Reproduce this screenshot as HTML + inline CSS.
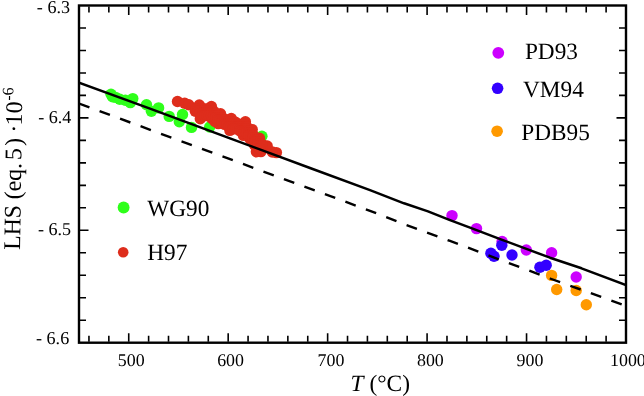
<!DOCTYPE html>
<html><head><meta charset="utf-8"><title>LHS vs T</title>
<style>
html,body{margin:0;padding:0;background:#fff}
body{width:644px;height:396px;overflow:hidden}
svg{display:block}
text{font-family:"Liberation Serif",serif;fill:#000;text-rendering:geometricPrecision;white-space:pre}
</style></head><body>
<svg width="644" height="396" viewBox="0 0 644 396">
<rect width="644" height="396" fill="#fff"/>
<g fill="#2eff1a"><circle cx="111.0" cy="94.2" r="5.70"/><circle cx="112.5" cy="96.8" r="5.70"/><circle cx="115.6" cy="97.4" r="5.70"/><circle cx="119.8" cy="99.2" r="5.70"/><circle cx="125.3" cy="100.2" r="5.70"/><circle cx="130.3" cy="102.6" r="5.70"/><circle cx="132.8" cy="98.6" r="5.70"/><circle cx="146.5" cy="104.7" r="5.70"/><circle cx="151.4" cy="111.2" r="5.70"/><circle cx="158.6" cy="107.9" r="5.70"/><circle cx="169.2" cy="116.4" r="5.70"/><circle cx="182.5" cy="114.5" r="5.70"/><circle cx="179.3" cy="121.8" r="5.70"/><circle cx="191.5" cy="127.4" r="5.70"/><circle cx="209.7" cy="127.0" r="5.70"/><circle cx="261.9" cy="136.2" r="5.70"/></g>
<g fill="#de2d1c"><circle cx="177.5" cy="101.5" r="5.70"/><circle cx="184.7" cy="103.3" r="5.70"/><circle cx="188.7" cy="104.8" r="5.70"/><circle cx="199.3" cy="105.0" r="5.70"/><circle cx="211.4" cy="106.5" r="5.70"/><circle cx="220.5" cy="113.8" r="5.70"/><circle cx="231.3" cy="118.5" r="5.70"/><circle cx="245.4" cy="121.7" r="5.70"/><circle cx="252.2" cy="129.6" r="5.70"/><circle cx="259.5" cy="138.2" r="5.70"/><circle cx="267.2" cy="146.0" r="5.70"/><circle cx="276.4" cy="152.6" r="5.70"/><circle cx="272.3" cy="152.0" r="5.70"/><circle cx="266.0" cy="147.5" r="5.70"/><circle cx="260.9" cy="151.6" r="5.70"/><circle cx="256.4" cy="151.8" r="5.70"/><circle cx="254.5" cy="145.0" r="5.70"/><circle cx="250.0" cy="139.0" r="5.70"/><circle cx="243.5" cy="135.4" r="5.70"/><circle cx="229.9" cy="130.4" r="5.70"/><circle cx="218.3" cy="123.6" r="5.70"/><circle cx="215.0" cy="121.5" r="5.70"/><circle cx="212.0" cy="118.4" r="5.70"/><circle cx="200.3" cy="118.7" r="5.70"/><circle cx="195.3" cy="111.2" r="5.70"/><circle cx="196.0" cy="109.0" r="5.70"/><circle cx="198.2" cy="109.0" r="5.70"/><circle cx="200.4" cy="109.0" r="5.70"/><circle cx="202.6" cy="109.0" r="5.70"/><circle cx="204.8" cy="109.0" r="5.70"/><circle cx="207.0" cy="109.0" r="5.70"/><circle cx="209.2" cy="109.0" r="5.70"/><circle cx="198.2" cy="111.2" r="5.70"/><circle cx="200.4" cy="111.2" r="5.70"/><circle cx="202.6" cy="111.2" r="5.70"/><circle cx="204.8" cy="111.2" r="5.70"/><circle cx="207.0" cy="111.2" r="5.70"/><circle cx="209.2" cy="111.2" r="5.70"/><circle cx="211.4" cy="111.2" r="5.70"/><circle cx="213.6" cy="111.2" r="5.70"/><circle cx="200.4" cy="113.4" r="5.70"/><circle cx="202.6" cy="113.4" r="5.70"/><circle cx="204.8" cy="113.4" r="5.70"/><circle cx="207.0" cy="113.4" r="5.70"/><circle cx="209.2" cy="113.4" r="5.70"/><circle cx="211.4" cy="113.4" r="5.70"/><circle cx="213.6" cy="113.4" r="5.70"/><circle cx="215.8" cy="113.4" r="5.70"/><circle cx="202.6" cy="115.6" r="5.70"/><circle cx="204.8" cy="115.6" r="5.70"/><circle cx="207.0" cy="115.6" r="5.70"/><circle cx="209.2" cy="115.6" r="5.70"/><circle cx="211.4" cy="115.6" r="5.70"/><circle cx="213.6" cy="115.6" r="5.70"/><circle cx="215.8" cy="115.6" r="5.70"/><circle cx="218.0" cy="115.6" r="5.70"/><circle cx="215.8" cy="117.8" r="5.70"/><circle cx="218.0" cy="117.8" r="5.70"/><circle cx="220.2" cy="117.8" r="5.70"/><circle cx="222.4" cy="117.8" r="5.70"/><circle cx="218.0" cy="120.0" r="5.70"/><circle cx="220.2" cy="120.0" r="5.70"/><circle cx="222.4" cy="120.0" r="5.70"/><circle cx="224.6" cy="120.0" r="5.70"/><circle cx="226.8" cy="120.0" r="5.70"/><circle cx="229.0" cy="120.0" r="5.70"/><circle cx="222.4" cy="122.2" r="5.70"/><circle cx="224.6" cy="122.2" r="5.70"/><circle cx="226.8" cy="122.2" r="5.70"/><circle cx="229.0" cy="122.2" r="5.70"/><circle cx="231.2" cy="122.2" r="5.70"/><circle cx="233.4" cy="122.2" r="5.70"/><circle cx="235.6" cy="122.2" r="5.70"/><circle cx="224.6" cy="124.4" r="5.70"/><circle cx="226.8" cy="124.4" r="5.70"/><circle cx="229.0" cy="124.4" r="5.70"/><circle cx="231.2" cy="124.4" r="5.70"/><circle cx="233.4" cy="124.4" r="5.70"/><circle cx="235.6" cy="124.4" r="5.70"/><circle cx="237.8" cy="124.4" r="5.70"/><circle cx="240.0" cy="124.4" r="5.70"/><circle cx="242.2" cy="124.4" r="5.70"/><circle cx="244.4" cy="124.4" r="5.70"/><circle cx="229.0" cy="126.6" r="5.70"/><circle cx="231.2" cy="126.6" r="5.70"/><circle cx="233.4" cy="126.6" r="5.70"/><circle cx="235.6" cy="126.6" r="5.70"/><circle cx="237.8" cy="126.6" r="5.70"/><circle cx="240.0" cy="126.6" r="5.70"/><circle cx="242.2" cy="126.6" r="5.70"/><circle cx="244.4" cy="126.6" r="5.70"/><circle cx="246.6" cy="126.6" r="5.70"/><circle cx="233.4" cy="128.8" r="5.70"/><circle cx="235.6" cy="128.8" r="5.70"/><circle cx="237.8" cy="128.8" r="5.70"/><circle cx="240.0" cy="128.8" r="5.70"/><circle cx="242.2" cy="128.8" r="5.70"/><circle cx="244.4" cy="128.8" r="5.70"/><circle cx="246.6" cy="128.8" r="5.70"/><circle cx="240.0" cy="131.0" r="5.70"/><circle cx="242.2" cy="131.0" r="5.70"/><circle cx="244.4" cy="131.0" r="5.70"/><circle cx="246.6" cy="131.0" r="5.70"/><circle cx="248.8" cy="131.0" r="5.70"/><circle cx="244.4" cy="133.2" r="5.70"/><circle cx="246.6" cy="133.2" r="5.70"/><circle cx="248.8" cy="133.2" r="5.70"/><circle cx="251.0" cy="133.2" r="5.70"/><circle cx="248.8" cy="135.4" r="5.70"/><circle cx="251.0" cy="135.4" r="5.70"/><circle cx="253.2" cy="135.4" r="5.70"/><circle cx="253.2" cy="137.6" r="5.70"/><circle cx="255.4" cy="137.6" r="5.70"/><circle cx="255.4" cy="139.8" r="5.70"/><circle cx="257.6" cy="139.8" r="5.70"/><circle cx="255.4" cy="142.0" r="5.70"/><circle cx="257.6" cy="142.0" r="5.70"/><circle cx="259.8" cy="142.0" r="5.70"/><circle cx="257.6" cy="144.2" r="5.70"/><circle cx="259.8" cy="144.2" r="5.70"/><circle cx="262.0" cy="144.2" r="5.70"/><circle cx="257.6" cy="146.4" r="5.70"/><circle cx="259.8" cy="146.4" r="5.70"/><circle cx="262.0" cy="146.4" r="5.70"/><circle cx="259.8" cy="148.6" r="5.70"/></g>
<g fill="#cc00ff"><circle cx="452.0" cy="215.6" r="5.70"/><circle cx="476.5" cy="228.6" r="5.70"/><circle cx="502.1" cy="241.5" r="5.70"/><circle cx="526.3" cy="250.0" r="5.70"/><circle cx="551.6" cy="252.7" r="5.70"/><circle cx="576.2" cy="277.0" r="5.70"/></g>
<g fill="#ff9900"><circle cx="551.6" cy="275.4" r="5.70"/><circle cx="556.7" cy="289.5" r="5.70"/><circle cx="576.2" cy="290.5" r="5.70"/><circle cx="586.3" cy="304.8" r="5.70"/></g>
<g fill="#3300ff"><circle cx="501.8" cy="245.2" r="5.70"/><circle cx="490.9" cy="253.2" r="5.70"/><circle cx="494.0" cy="256.3" r="5.70"/><circle cx="512.0" cy="255.0" r="5.70"/><circle cx="539.9" cy="267.2" r="5.70"/><circle cx="546.2" cy="265.2" r="5.70"/></g>
<g clip-path="url(#cp)"><path d="M79 82.7L150 108.7L230 138.4L310 168L370 190.1L404 203.3L428 211.4L450 220.1L470 227.6L501.5 239.6L550 257.7L581.5 268.3L626 285" stroke="#000" stroke-width="2.5" stroke-linejoin="round" fill="none"/><path d="M79.1 103.6L370 210.8L404 224.1L450 240.9L470 248.4L501.5 260.3L550 278.5L581.5 289.8L626 306" stroke="#000" stroke-width="2.4" stroke-dasharray="11 10.83" fill="none"/></g>
<defs><clipPath id="cp"><rect x="79" y="5" width="547" height="338"/></clipPath></defs>
<rect x="79.0" y="5.5" width="547.0" height="337.2" fill="none" stroke="#000" stroke-width="2.4"/>
<path d="M88.95 6.50v6.0M88.95 341.70v-6.0M108.84 6.50v6.0M108.84 341.70v-6.0M128.73 6.50v8.5M128.73 341.70v-8.5M148.62 6.50v6.0M148.62 341.70v-6.0M168.51 6.50v6.0M168.51 341.70v-6.0M188.40 6.50v6.0M188.40 341.70v-6.0M208.29 6.50v6.0M208.29 341.70v-6.0M228.18 6.50v8.5M228.18 341.70v-8.5M248.07 6.50v6.0M248.07 341.70v-6.0M267.96 6.50v6.0M267.96 341.70v-6.0M287.85 6.50v6.0M287.85 341.70v-6.0M307.75 6.50v6.0M307.75 341.70v-6.0M327.64 6.50v8.5M327.64 341.70v-8.5M347.53 6.50v6.0M347.53 341.70v-6.0M367.42 6.50v6.0M367.42 341.70v-6.0M387.31 6.50v6.0M387.31 341.70v-6.0M407.20 6.50v6.0M407.20 341.70v-6.0M427.09 6.50v8.5M427.09 341.70v-8.5M446.98 6.50v6.0M446.98 341.70v-6.0M466.87 6.50v6.0M466.87 341.70v-6.0M486.76 6.50v6.0M486.76 341.70v-6.0M506.65 6.50v6.0M506.65 341.70v-6.0M526.55 6.50v8.5M526.55 341.70v-8.5M546.44 6.50v6.0M546.44 341.70v-6.0M566.33 6.50v6.0M566.33 341.70v-6.0M586.22 6.50v6.0M586.22 341.70v-6.0M606.11 6.50v6.0M606.11 341.70v-6.0M80.00 27.98h6.0M625.00 27.98h-6.0M80.00 50.46h6.0M625.00 50.46h-6.0M80.00 72.94h6.0M625.00 72.94h-6.0M80.00 95.42h6.0M625.00 95.42h-6.0M80.00 117.90h8.5M625.00 117.90h-8.5M80.00 140.38h6.0M625.00 140.38h-6.0M80.00 162.86h6.0M625.00 162.86h-6.0M80.00 185.34h6.0M625.00 185.34h-6.0M80.00 207.82h6.0M625.00 207.82h-6.0M80.00 230.30h8.5M625.00 230.30h-8.5M80.00 252.78h6.0M625.00 252.78h-6.0M80.00 275.26h6.0M625.00 275.26h-6.0M80.00 297.74h6.0M625.00 297.74h-6.0M80.00 320.22h6.0M625.00 320.22h-6.0" stroke="#000" stroke-width="1.6" fill="none"/>
<g style="will-change:opacity">
<text x="70.0" y="12.6" font-size="18.1" text-anchor="end">- 6.3</text>
<text x="71.3" y="122.5" font-size="18.1" text-anchor="end">- 6.4</text>
<text x="71.1" y="234.6" font-size="18.1" text-anchor="end">- 6.5</text>
<text x="69.2" y="344.2" font-size="18.1" text-anchor="end">- 6.6</text>
<text x="131.2" y="366.2" font-size="17.9" text-anchor="middle">500</text>
<text x="230.6" y="366.2" font-size="17.9" text-anchor="middle">600</text>
<text x="331.0" y="366.2" font-size="17.9" text-anchor="middle">700</text>
<text x="430.4" y="366.2" font-size="17.9" text-anchor="middle">800</text>
<text x="530.0" y="366.2" font-size="17.9" text-anchor="middle">900</text>
<text x="627.9" y="366.2" font-size="17.9" text-anchor="middle">1000</text>
<text x="350.6" y="391.3" font-size="23.4"><tspan font-style="italic">T</tspan> (°C)</text>
<text transform="translate(19.9 250.1) rotate(-89.1)" font-size="24">LH<tspan dx="-0.4">S</tspan><tspan dx="-0.4"> (eq.</tspan><tspan dx="-3.4"> 5</tspan><tspan dx="2.2">)</tspan><tspan dx="-0.6"> ·</tspan><tspan dx="-0.8">10</tspan><tspan font-size="16" dx="0.6" dy="-9">-6</tspan></text>
<circle cx="498.3" cy="52.8" r="5.90" fill="#cc00ff"/><text x="524.9" y="59.2" font-size="23.3">PD93</text>
<circle cx="497.6" cy="88.3" r="5.80" fill="#3300ff"/><text x="523.0" y="96.6" font-size="23.3">VM94</text>
<circle cx="497.1" cy="131.2" r="5.80" fill="#ff9900"/><text x="521.3" y="139.7" font-size="23.3">PDB95</text>
<circle cx="123.6" cy="207.5" r="5.95" fill="#2eff1a"/><text x="147.3" y="215.6" font-size="23.3">WG90</text>
<circle cx="123.2" cy="252.3" r="5.30" fill="#de2d1c"/><text x="147.3" y="259.5" font-size="23.3">H97</text>
</g>
</svg>
</body></html>
